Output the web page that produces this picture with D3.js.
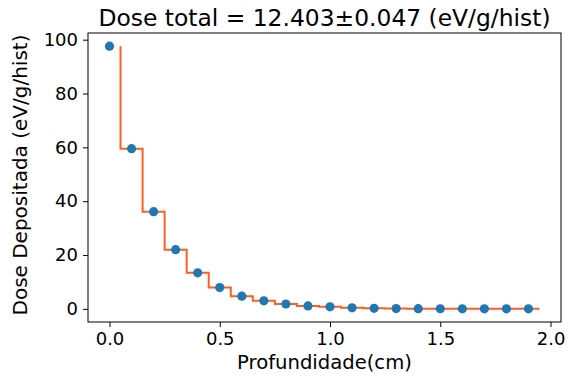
<!DOCTYPE html>
<html>
<head>
<meta charset="utf-8">
<script src="https://cdn.jsdelivr.net/npm/d3@7"></script>
<style>
  body { margin: 0; background: #fff; }
  svg { font-family: "DejaVu Sans", sans-serif; }
</style>
</head>
<body>
<script>
const width = 576;
const height = 376;

// profundidade (cm) dos pontos e dose
const depth = [0.0, 0.1, 0.2, 0.3, 0.4, 0.5, 0.6, 0.7, 0.8, 0.9,
               1.0, 1.1, 1.2, 1.3, 1.4, 1.5, 1.6, 1.7, 1.8, 1.9];
const dose = [97.6, 59.5, 36.1, 22.0, 13.4, 7.9, 4.7, 3.0, 1.8, 1.1,
              0.75, 0.4, 0.2, 0.12, 0.08, 0.05, 0.03, 0.02, 0.01, 0.01];
const xTicks = [0.0, 0.5, 1.0, 1.5, 2.0];
const yTicks = [0, 20, 40, 60, 80, 100];
const title = 'Dose total = 12.403\u00b10.047 (eV/g/hist)';

const margin = {top: 33, right: 15, bottom: 54, left: 88};

const svg = d3.select('body').append('svg')
    .attr('width', width)
    .attr('height', height);

const x = d3.scaleLinear()
    .domain([-0.0975, 2.0475])
    .range([margin.left, width - margin.right]);

const y = d3.scaleLinear()
    .domain([-4.88, 102.48])
    .range([height - margin.bottom, margin.top]);

// step line, bordas deslocadas de meio passo
const stepData = depth.map((d, i) => [d + 0.05, dose[i]]);
const line = d3.line()
    .x(d => x(d[0]))
    .y(d => y(d[1]))
    .curve(d3.curveStepBefore);

svg.append('path')
    .datum(stepData)
    .attr('d', line)
    .attr('fill', 'none')
    .attr('stroke', '#fc5f26')
    .attr('stroke-width', 2);

svg.selectAll('circle')
    .data(depth)
    .enter()
    .append('circle')
    .attr('cx', d => x(d))
    .attr('cy', (d, i) => y(dose[i]))
    .attr('r', 4.6)
    .attr('fill', '#1f77b4');

const xAxis = svg.append('g')
    .attr('transform', `translate(0,${height - margin.bottom})`)
    .call(d3.axisBottom(x).tickValues(xTicks).tickFormat(d3.format('.1f')).tickSizeOuter(0).tickSize(5).tickPadding(5));

const yAxis = svg.append('g')
    .attr('transform', `translate(${margin.left},0)`)
    .call(d3.axisLeft(y).tickValues(yTicks).tickSizeOuter(0).tickSize(5).tickPadding(5));

[xAxis, yAxis].forEach(g => {
    g.select('.domain').remove();
    g.selectAll('text').attr('font-size', 18).attr('fill', '#000')
        .attr('font-family', '"DejaVu Sans", sans-serif');
    g.selectAll('line').attr('stroke', '#000').attr('stroke-width', 1);
});

// frame
svg.append('rect')
    .attr('x', margin.left)
    .attr('y', margin.top)
    .attr('width', width - margin.left - margin.right)
    .attr('height', height - margin.top - margin.bottom)
    .attr('fill', 'none')
    .attr('stroke', '#000')
    .attr('stroke-width', 1);

const cx = (margin.left + width - margin.right) / 2;

svg.append('text')
    .attr('x', cx)
    .attr('y', 26)
    .attr('text-anchor', 'middle')
    .attr('font-size', 23.4)
    .text(title);

svg.append('text')
    .attr('x', cx)
    .attr('y', 369)
    .attr('text-anchor', 'middle')
    .attr('font-size', 19.6)
    .text('Profundidade(cm)');

svg.append('text')
    .attr('transform', `translate(27,175) rotate(-90)`)
    .attr('text-anchor', 'middle')
    .attr('font-size', 20)
    .text('Dose Depositada (eV/g/hist)');
</script>
</body>
</html>
